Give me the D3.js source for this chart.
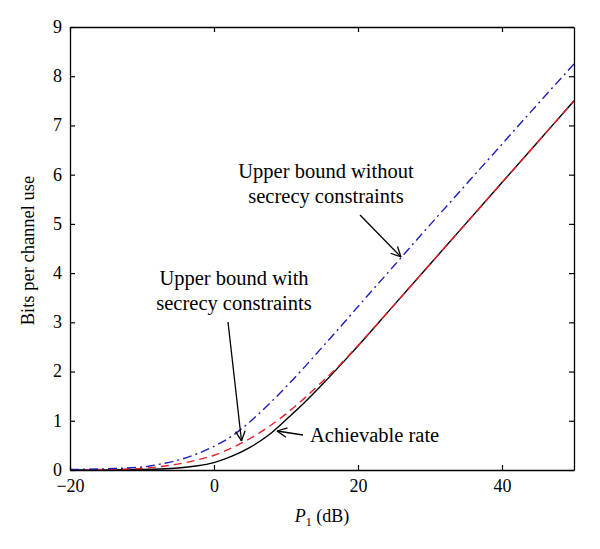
<!DOCTYPE html>
<html><head><meta charset="utf-8">
<script src="https://cdn.jsdelivr.net/npm/d3@7"></script>
<style>body{margin:0;background:#fff}svg{display:block}text{font-family:"Liberation Serif","DejaVu Serif",serif;}</style>
</head><body>
<script>
const snrDb = [-20,-15,-10,-7.5,-5,-2.5,0,2.5,5,7.5,10,12.5,15,17.5,20,25,30,35,40,45,50];
const upperNoSecrecy = [0.01,0.025,0.06,0.12,0.2,0.32,0.48,0.69,0.98,1.32,1.69,2.08,2.49,2.9,3.32,4.15,4.98,5.8,6.62,7.44,8.25];
const upperSecrecy = [0.0,0.01,0.03,0.07,0.12,0.2,0.3,0.45,0.64,0.87,1.14,1.45,1.79,2.14,2.53,3.35,4.18,5.01,5.84,6.67,7.5];
const achievable = [0.0,0.002,0.01,0.02,0.04,0.08,0.15,0.28,0.46,0.7,1.02,1.36,1.73,2.12,2.52,3.35,4.18,5.01,5.84,6.67,7.5];
const xTicks = [-20,0,20,40];
const yTicks = [0,1,2,3,4,5,6,7,8,9];

const W=600,H=549;
const m={left:70,right:26,top:27,bottom:79};
const svg=d3.select("body").append("svg").attr("width",W).attr("height",H);
const x=d3.scaleLinear().domain([-20,50]).range([m.left,W-m.right]);
const y=d3.scaleLinear().domain([0,9]).range([H-m.bottom,m.top]);

const defs=svg.append("defs");
defs.append("clipPath").attr("id","clip").append("rect")
  .attr("x",m.left).attr("y",m.top).attr("width",x(50)-x(-20)).attr("height",y(0)-y(9));

const line=d3.line().x((d,i)=>x(snrDb[i])).y(d=>y(d)).curve(d3.curveMonotoneX);
const g=svg.append("g").attr("clip-path","url(#clip)");
g.append("path").datum(achievable).attr("d",line).attr("fill","none").attr("stroke","#000").attr("stroke-width",1.4);
g.append("path").datum(upperSecrecy).attr("d",line).attr("fill","none").attr("stroke","#e8202a").attr("stroke-width",1.4).attr("stroke-dasharray","8,5");
g.append("path").datum(upperNoSecrecy).attr("d",line).attr("fill","none").attr("stroke","#1e1eb8").attr("stroke-width",1.4).attr("stroke-dasharray","9,4,2,4");

// axes
const fs=18;
const ax=svg.append("g").attr("transform",`translate(0,${y(0)})`).call(d3.axisBottom(x).tickValues(xTicks).tickSizeInner(-5).tickSizeOuter(0).tickPadding(13).tickFormat(d=>d<0?"\u2212"+Math.abs(d):d));
const axT=svg.append("g").attr("transform",`translate(0,${y(9)})`).call(d3.axisTop(x).tickValues(xTicks).tickSizeInner(-5).tickSizeOuter(0).tickFormat(""));
const ay=svg.append("g").attr("transform",`translate(${x(-20)},0)`).call(d3.axisLeft(y).tickValues(yTicks).tickSizeInner(-5).tickSizeOuter(0).tickPadding(8));
const ayR=svg.append("g").attr("transform",`translate(${x(50)},0)`).call(d3.axisRight(y).tickValues(yTicks).tickSizeInner(-5).tickSizeOuter(0).tickFormat(""));
[ax,axT,ay,ayR].forEach(a=>{a.select(".domain").attr("stroke","#000").attr("stroke-width",1.3);a.selectAll(".tick line").attr("stroke","#000").attr("stroke-width",1.2);a.selectAll("text").attr("font-size",fs).attr("fill","#000").attr("font-family","Liberation Serif");});
ax.selectAll("text").attr("dy","0.5em");
ay.selectAll("text").attr("dy","0.3em");

// axis titles
svg.append("text").attr("transform",`translate(34,${(y(0)+y(9))/2+2}) rotate(-90)`).attr("text-anchor","middle").attr("font-size",18.5).text("Bits per channel use");
const xl=svg.append("text").attr("x",(x(-20)+x(50))/2).attr("y",522).attr("text-anchor","middle").attr("font-size",fs);
xl.append("tspan").attr("font-style","italic").text("P");
xl.append("tspan").attr("font-size",12).attr("dy",4).text("1");
xl.append("tspan").attr("dy",-4).text(" (dB)");

// annotations
function arrow(x1,y1,x2,y2){
  svg.append("line").attr("x1",x1).attr("y1",y1).attr("x2",x2).attr("y2",y2).attr("stroke","#000").attr("stroke-width",1.3);
  const a=Math.atan2(y2-y1,x2-x1),L=11,s=0.45;
  [a+Math.PI-s,a+Math.PI+s].forEach(t=>svg.append("line").attr("x1",x2).attr("y1",y2).attr("x2",x2+L*Math.cos(t)).attr("y2",y2+L*Math.sin(t)).attr("stroke","#000").attr("stroke-width",1.3));
}
function label(cx,by,lines,anchor){
  lines.forEach((t,i)=>svg.append("text").attr("x",cx).attr("y",by+i*25).attr("text-anchor",anchor||"middle").attr("font-size",20.5).text(t));
}
label(326,178,["Upper bound without","secrecy constraints"]);
arrow(360,215,401,257);
label(234,285,["Upper bound with","secrecy constraints"]);
arrow(228,322,241.5,441);
label(310,442,["Achievable rate"],"start");
arrow(303,435,277,431);
</script>
</body></html>
